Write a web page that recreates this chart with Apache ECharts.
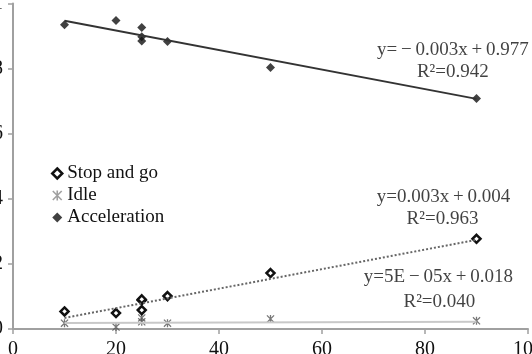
<!DOCTYPE html>
<html>
<head>
<meta charset="utf-8">
<script src="https://cdn.jsdelivr.net/npm/echarts@6/dist/echarts.min.js"></script>
<style>
  html, body { margin: 0; padding: 0; background: #fff; }
  #chart { width: 532px; height: 354px; }
</style>
</head>
<body>
<div id="chart"></div>
<script>
// data
const stopGo = [[10, 0.054], [20, 0.049], [25, 0.058], [25, 0.088], [25, 0.091], [30, 0.101], [50, 0.172], [90, 0.277]];
const idle = [[10, 0.018], [20, 0.006], [25, 0.034], [25, 0.022], [30, 0.018], [50, 0.031], [90, 0.025]];
const accel = [[10, 0.935], [20, 0.948], [25, 0.926], [25, 0.898], [25, 0.885], [30, 0.883], [50, 0.803], [90, 0.708]];

// trend line end points
const stopGoTrend = [[10, 0.034], [90, 0.274]];
const idleTrend = [[10, 0.0185], [90, 0.0225]];
const accelTrend = [[10, 0.947], [90, 0.707]];

// equation labels [x, y, text]
const notes = [
  [85.4, 0.858, 'y=\u2009\u2212\u20090.003x\u2009+\u20090.977'],
  [85.4, 0.788, 'R\u00b2=0.942'],
  [83.6, 0.406, 'y=0.003x\u2009+\u20090.004'],
  [83.4, 0.338, 'R\u00b2=0.963'],
  [82.6, 0.160, 'y=5E\u2009\u2212\u200905x\u2009+\u20090.018'],
  [82.8, 0.083, 'R\u00b2=0.040']
];

const xTicks = [0, 20, 40, 60, 80, 100];
const yTicks = [0, 0.2, 0.4, 0.6, 0.8, 1];

const serif = '"Liberation Serif", "DejaVu Serif", serif';
const asterisk = 'path://M4.2,0L5.8,0L5.8,10L4.2,10Z M0,1.1L1.1,0L10,8.9L8.9,10Z M8.9,0L10,1.1L1.1,10L0,8.9Z';

const chart = echarts.init(document.getElementById('chart'));

chart.setOption({
  animation: false,
  grid: { left: 13, right: 4, top: 3.5, bottom: 25, outerBoundsMode: 'none', containLabel: false },
  xAxis: {
    type: 'value',
    min: xTicks[0],
    max: xTicks[xTicks.length - 1],
    interval: 20,
    axisLine: { lineStyle: { color: '#a0a0a0', width: 2 } },
    axisTick: { show: true, length: 5, lineStyle: { color: '#a0a0a0', width: 1.5 } },
    axisLabel: { color: '#111', fontFamily: serif, fontSize: 20, margin: 11 },
    splitLine: { show: false }
  },
  yAxis: {
    type: 'value',
    min: yTicks[0],
    max: yTicks[yTicks.length - 1],
    interval: 0.2,
    axisLine: { show: true, lineStyle: { color: '#a0a0a0', width: 2 } },
    axisTick: { show: true, length: 5, lineStyle: { color: '#a0a0a0', width: 1.5 } },
    axisLabel: { color: '#111', fontFamily: serif, fontSize: 20, margin: 10 },
    splitLine: { show: false }
  },
  legend: {
    orient: 'vertical',
    left: 46,
    top: 159,
    itemWidth: 10,
    itemHeight: 10,
    itemGap: 3,
    textStyle: { fontFamily: serif, fontSize: 19, color: '#111' },
    data: [
      { name: 'Stop and go', icon: 'diamond', itemStyle: { color: '#fff', borderColor: '#111', borderWidth: 2.5 } },
      { name: 'Idle', icon: asterisk, itemStyle: { color: '#888', borderWidth: 0 } },
      { name: 'Acceleration', icon: 'diamond', itemStyle: { color: '#111', borderWidth: 0 } }
    ]
  },
  series: [
    {
      type: 'line', data: idleTrend, showSymbol: false, silent: true,
      lineStyle: { color: '#c8c8c8', width: 2 }
    },
    {
      type: 'line', data: stopGoTrend, showSymbol: false, silent: true,
      lineStyle: { color: '#666', width: 2, type: [2, 2] }
    },
    {
      type: 'line', data: accelTrend, showSymbol: false, silent: true,
      lineStyle: { color: '#333', width: 1.8 }
    },
    {
      name: 'Idle', type: 'scatter', data: idle, symbol: asterisk, symbolSize: 8,
      itemStyle: { color: '#555' }
    },
    {
      name: 'Stop and go', type: 'scatter', data: stopGo, symbol: 'diamond', symbolSize: 8,
      itemStyle: { color: '#fff', borderColor: '#111', borderWidth: 2.5, opacity: 1 }
    },
    {
      name: 'Acceleration', type: 'scatter', data: accel, symbol: 'diamond', symbolSize: 9,
      itemStyle: { color: '#111' }
    },
    {
      type: 'scatter', data: notes, symbolSize: 0, silent: true,
      label: {
        show: true, position: 'inside', color: '#111',
        fontFamily: serif, fontSize: 19,
        formatter: p => p.data[2]
      }
    }
  ]
});
</script>
</body>
</html>
